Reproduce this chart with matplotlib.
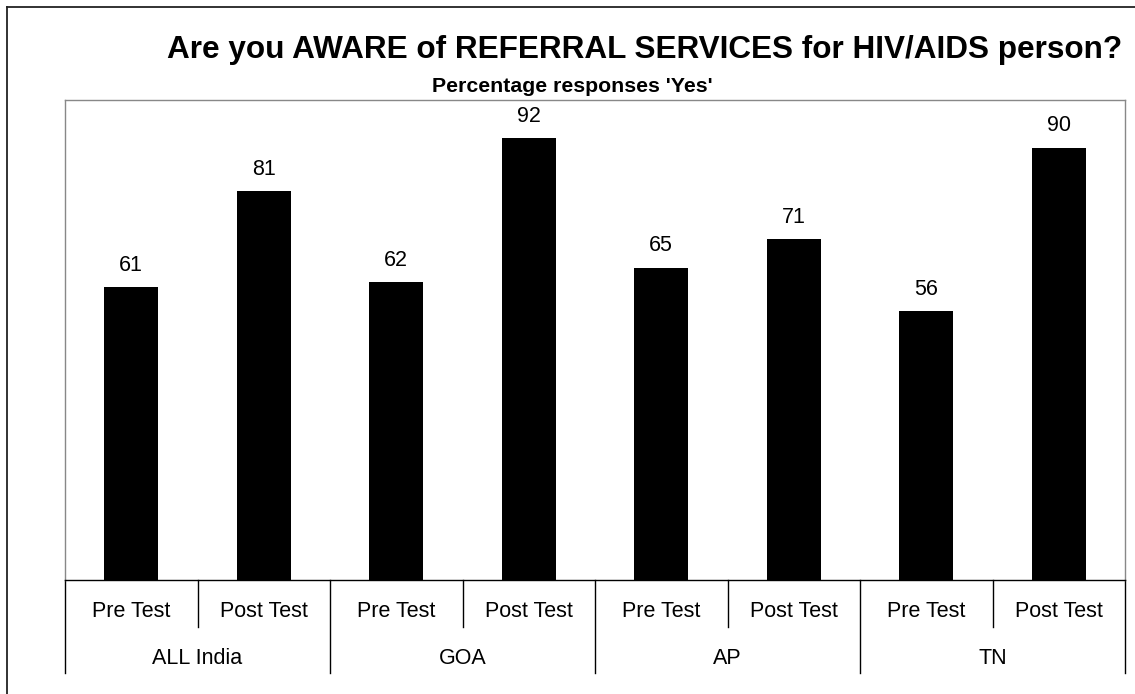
import matplotlib.pyplot as plt
from matplotlib.lines import Line2D
import matplotlib.transforms as mtransforms

plt.rcParams['font.family'] = ['Liberation Sans', 'DejaVu Sans']

# data
tests = ['Pre Test', 'Post Test', 'Pre Test', 'Post Test',
         'Pre Test', 'Post Test', 'Pre Test', 'Post Test']
regions = ['ALL India', 'GOA', 'AP', 'TN']
yes_pct = [61, 81, 62, 92, 65, 71, 56, 90]

W, H = 1135, 694
fig = plt.figure(figsize=(W / 100, H / 100), dpi=100)

# outer frame (only top and left are visible in the source)
fig.add_artist(Line2D([7 / W, 7 / W], [0, 1 - 7 / H], color='#222222', lw=1.3))
fig.add_artist(Line2D([7 / W, 1], [1 - 7 / H, 1 - 7 / H], color='#222222', lw=1.3))

ax = fig.add_axes([65 / W, 1 - 580 / H, 1060 / W, 480 / H])
x = list(range(len(yes_pct)))
ax.bar(x, yes_pct, width=0.41, color='black')
ax.set_xlim(-0.5, 7.5)
ax.set_ylim(0, 100)
ax.set_xticks([])
ax.set_yticks([])
for side in ['top', 'left', 'right']:
    ax.spines[side].set_color('#888888')
    ax.spines[side].set_linewidth(1.0)
ax.spines['bottom'].set_color('black')
ax.spines['bottom'].set_linewidth(1.0)

for xi, v in zip(x, yes_pct):
    ax.annotate(str(v), (xi, v), xytext=(0, 12), textcoords='offset points',
                ha='center', va='baseline', fontsize=15.5)

# two-level category axis
trans = mtransforms.blended_transform_factory(ax.transData, ax.transAxes)
for b in [-0.5, 1.5, 3.5, 5.5, 7.5]:
    ax.add_line(Line2D([b, b], [0, -0.194], transform=trans, color='black',
                       lw=1.0, clip_on=False))
for b in [0.5, 2.5, 4.5, 6.5]:
    ax.add_line(Line2D([b, b], [0, -0.098], transform=trans, color='black',
                       lw=1.0, clip_on=False))
for xi, t in zip(x, tests):
    ax.text(xi, -0.066, t, transform=trans, ha='center', va='center',
            fontsize=15.5)
for i, r in enumerate(regions):
    ax.text(2 * i + 0.5, -0.163, r, transform=trans, ha='center', va='center',
            fontsize=15.5)

fig.text(645 / W, 1 - 58 / H, 'Are you AWARE of REFERRAL SERVICES for HIV/AIDS person?',
         ha='center', va='baseline', fontsize=22.7, fontweight='bold')
fig.text(572 / W, 1 - 92 / H, "Percentage responses 'Yes'",
         ha='center', va='baseline', fontsize=15.3, fontweight='bold')

fig.savefig('out.png', dpi=100)
